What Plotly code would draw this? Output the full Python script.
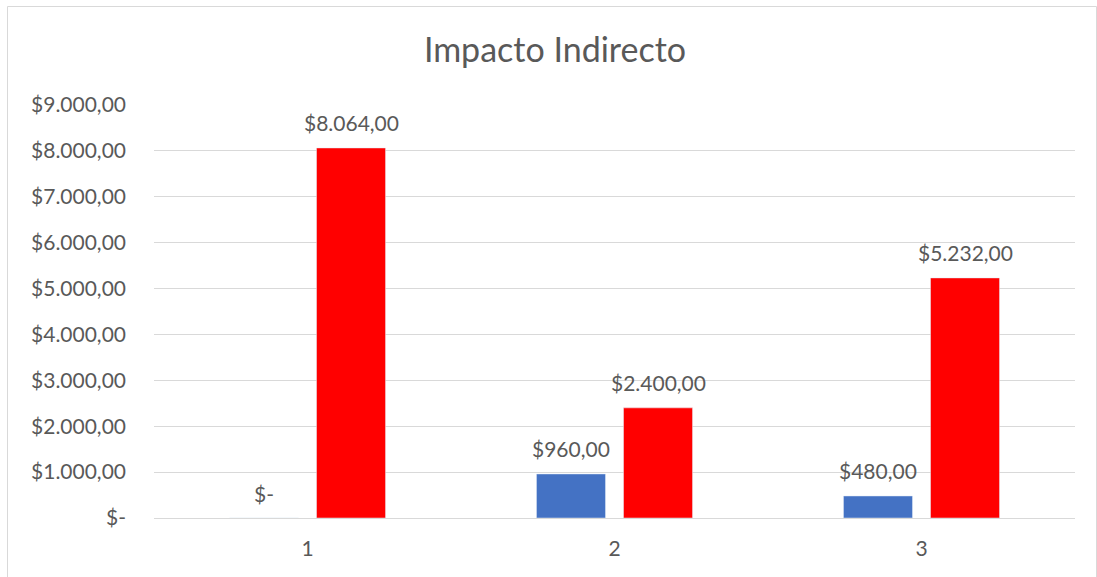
import plotly.graph_objects as go

categories = ["1", "2", "3"]
serie_azul = [0, 960, 480]
serie_roja = [8064, 2400, 5232]
tick_vals = [0, 1000, 2000, 3000, 4000, 5000, 6000, 7000, 8000, 9000]
tick_text = ["$-", "$1.000,00", "$2.000,00", "$3.000,00", "$4.000,00",
             "$5.000,00", "$6.000,00", "$7.000,00", "$8.000,00", "$9.000,00"]


def fmt(v):
    if v == 0:
        return "$-"
    s = f"{v:,.2f}"
    s = s.replace(",", "X").replace(".", ",").replace("X", ".")
    return "$" + s


W, H = 1097, 577
L, R, T, B = 154, 22, 105, 59
FONT = "Lato, 'Open Sans', sans-serif"
GREY = "#595959"
LBL = 21

fig = go.Figure()
fig.add_trace(go.Bar(x=categories, y=serie_azul, marker_color="#4472C4", name="A"))
fig.add_trace(go.Bar(x=categories, y=serie_roja, marker_color="#FF0000", name="B"))

# data labels above bars (x = category index on the category axis)
for series, shift in ((serie_azul, -43.5), (serie_roja, 43.5)):
    for i, v in enumerate(series):
        fig.add_annotation(x=i, y=v, text=fmt(v), showarrow=False,
                           xshift=shift, yshift=25, yanchor="middle",
                           font=dict(family=FONT, size=LBL, color=GREY))

pw = W - L - R
ph = H - T - B
fig.add_shape(type="rect", xref="paper", yref="paper",
              x0=(7.5 - L) / pw, x1=(1096.5 - L) / pw,
              y0=((H - B) - 600) / ph,
              y1=((H - B) - 6.5) / ph,
              line=dict(color="#D9D9D9", width=1), fillcolor="rgba(0,0,0,0)", layer="below")

fig.update_layout(
    width=W, height=H,
    margin=dict(l=L, r=R, t=T, b=B),
    paper_bgcolor="white", plot_bgcolor="white",
    showlegend=False,
    barmode="group", bargap=0.433, bargroupgap=0.207,
    title=dict(text="Impacto Indirecto", x=555 / W, xref="container", xanchor="center",
               y=1 - 50 / H, yref="container", yanchor="middle",
               font=dict(family=FONT, size=34, color=GREY)),
    xaxis=dict(type="category", range=[-0.5, len(categories) - 0.5],
               showgrid=False, showline=False, ticks="", zeroline=False,
               tickfont=dict(family=FONT, size=LBL, color=GREY), ticklabelstandoff=16),
    yaxis=dict(range=[0, 9000], tickvals=tick_vals, ticktext=tick_text,
               showgrid=True, gridcolor="#D9D9D9", gridwidth=1,
               zeroline=True, zerolinecolor="#D9D9D9", zerolinewidth=1,
               ticks="", ticklabelstandoff=27,
               tickfont=dict(family=FONT, size=LBL, color=GREY)),
)

fig.write_html("out.html", config={"displayModeBar": False},
               post_script="document.body.style.margin='0';")
